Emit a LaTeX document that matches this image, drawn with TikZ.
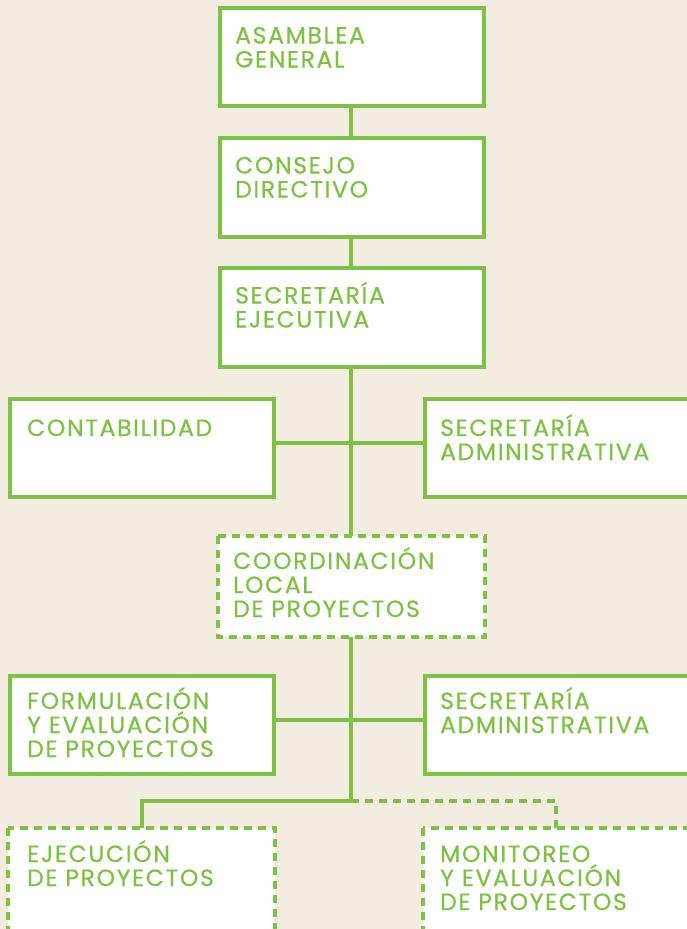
\documentclass[tikz,border=0pt]{standalone}
\usepackage{fontspec}
\newfontfamily\lblfont[FakeBold=0.7,LetterSpace=7]{Poppins}
\definecolor{grn}{HTML}{7DC242}
\definecolor{bg}{HTML}{F3ECE0}
\newcommand{\rowtxt}[1]{\hbox{#1}}
\newcommand{\lines}[1]{\vtop{\baselineskip=24pt\lineskiplimit=-50pt\lineskip=0pt #1}}
\tikzset{
  solidbox/.style={draw=grn, line width=3.2pt, fill=white},
  dashbox/.style={draw=grn, line width=3.2pt, fill=white, dash pattern=on 8pt off 6pt},
  lbl/.style={anchor=base west, inner sep=0pt, text=grn,
    font=\lblfont\fontsize{23.5}{24}\selectfont},
  conn/.style={draw=grn, line width=3.2pt},
  dconn/.style={draw=grn, line width=3.2pt, dash pattern=on 8pt off 6pt},
}
\begin{document}
\begin{tikzpicture}[x=1pt,y=-1pt]
\fill[bg] (0,0) rectangle (687,929);
\useasboundingbox (0,0) rectangle (687,929);
\clip (0,0) rectangle (687,929);
% connectors first
\coordinate (vtop) at (351,106);
\coordinate (vbot) at (351,801);
\draw[conn] (vtop) -- (vbot);
\coordinate (h1l) at (274,443);
\coordinate (h1r) at (425,443);
\draw[conn] (h1l) -- (h1r);
\coordinate (h2l) at (274,720);
\coordinate (h2r) at (425,720);
\draw[conn] (h2l) -- (h2r);
\coordinate (bl) at (142,801);
\coordinate (bld) at (142,828);
\coordinate (br) at (556,801);
\coordinate (brd) at (556,828);
\draw[conn] (vbot) -- (bl) -- (bld);
\draw[dconn] (vbot) -- (br) -- (brd);
% boxes
\draw[solidbox] (220,8) rectangle (484,106);
\draw[solidbox] (220,138) rectangle (484,237);
\draw[solidbox] (220,268) rectangle (484,367);
\draw[solidbox] (10,399) rectangle (274,497);
\draw[solidbox] (425,399) rectangle (695,497);
\draw[dashbox] (218,536) rectangle (485,637);
\draw[solidbox] (10,676) rectangle (274,774);
\draw[solidbox] (425,676) rectangle (695,774);
\draw[dashbox] (8,828) rectangle (275,935);
\draw[dashbox] (423,828) rectangle (695,935);
% labels
\node[lbl] (asamblea) at (235,43.5) {\lines{\rowtxt{ASAMBLEA}\rowtxt{GENERAL}}};
\node[lbl] (consejo) at (235,173.5) {\lines{\rowtxt{CONSEJO}\rowtxt{DIRECTIVO}}};
\node[lbl] (secej) at (235,303.5) {\lines{\rowtxt{SECRETARÍA}\rowtxt{EJECUTIVA}}};
\node[lbl] (conta) at (27,436) {\lines{\rowtxt{CONTABILIDAD}}};
\node[lbl] (secad1) at (440,436) {\lines{\rowtxt{SECRETARÍA}\rowtxt{ADMINISTRATIVA}}};
\node[lbl] (coord) at (233,569) {\lines{\rowtxt{COORDINACIÓN}\rowtxt{LOCAL}\rowtxt{DE PROYECTOS}}};
\node[lbl] (formu) at (27,709) {\lines{\rowtxt{FORMULACIÓN}\rowtxt{Y EVALUACIÓN}\rowtxt{DE PROYECTOS}}};
\node[lbl] (secad2) at (440,709) {\lines{\rowtxt{SECRETARÍA}\rowtxt{ADMINISTRATIVA}}};
\node[lbl] (ejec) at (27,862) {\lines{\rowtxt{EJECUCIÓN}\rowtxt{DE PROYECTOS}}};
\node[lbl] (monit) at (440,862) {\lines{\rowtxt{MONITOREO}\rowtxt{Y EVALUACIÓN}\rowtxt{DE PROYECTOS}}};
\end{tikzpicture}
\end{document}
